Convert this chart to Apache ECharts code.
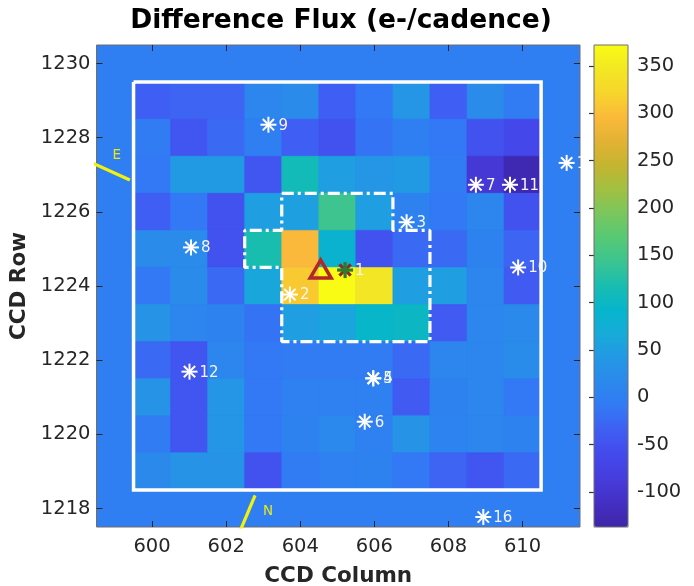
<!DOCTYPE html>
<html>
<head>
<meta charset="utf-8">
<script src="https://cdn.jsdelivr.net/npm/echarts@6/dist/echarts.min.js"></script>
<style>html,body{margin:0;padding:0;background:#fff}#c{width:694px;height:586px}</style>
</head>
<body>
<div id="c"></div>
<script>
// ---------------- data ----------------
const columns = [600, 601, 602, 603, 604, 605, 606, 607, 608, 609, 610];
const rows = [1229, 1228, 1227, 1226, 1225, 1224, 1223, 1222, 1221, 1220, 1219];
// difference flux, one array per CCD row (top to bottom), columns 600..610
const row1229 = [-35, -30, -30, 10, 20, -35, -10, 40, -35, 20, -5];
const row1228 = [-5, -45, -25, 0, -35, -50, -15, 0, -10, -50, -65];
const row1227 = [-10, 45, 45, -45, 110, 50, 40, 45, -5, -95, -128];
const row1226 = [-35, -10, -50, 50, 52, 145, 50, 5, -10, 12, -50];
const row1225 = [20, 20, -50, 118, 295, 85, -50, -25, -25, 5, -30];
const row1224 = [-10, 20, -25, 62, 310, 372, 345, 50, 50, 10, -40];
const row1223 = [35, 10, 5, -15, 50, 60, 95, 100, -40, 12, 18];
const row1222 = [-25, -45, 10, -10, -5, -5, -5, -25, 10, 12, 22];
const row1221 = [35, -45, 38, -10, 2, 2, 2, -40, 5, 12, -10];
const row1220 = [-5, -45, 38, -10, 5, 15, 2, 35, 8, 10, 5];
const row1219 = [18, 35, 35, -50, -5, 2, 5, -10, -30, -45, -25];
const fluxRows = [row1229, row1228, row1227, row1226, row1225, row1224, row1223, row1222, row1221, row1220, row1219];

const fluxMin = -137, fluxMax = 372;
const xTicks = [600, 602, 604, 606, 608, 610];
const yTicks = [1218, 1220, 1222, 1224, 1226, 1228, 1230];
const cbTicks = [-100, -50, 0, 50, 100, 150, 200, 250, 300, 350];
const xRange = [598.5, 611.55];
const yRange = [1217.5, 1230.5];

// mask outline and optimal aperture outline (data coords)
const maskX = [599.5, 610.5, 610.5, 599.5, 599.5];
const maskY = [1229.5, 1229.5, 1218.5, 1218.5, 1229.5];
const apertureX = [603.5, 606.5, 606.5, 607.5, 607.5, 603.5, 603.5, 602.5, 602.5, 603.5, 603.5];
const apertureY = [1226.5, 1226.5, 1225.5, 1225.5, 1222.5, 1222.5, 1224.5, 1224.5, 1225.5, 1225.5, 1226.5];

// catalog stars
const starLabels = ['2', '3', '4', '5', '6', '7', '8', '9', '10', '11', '12', '16', '15'];
const starX = [603.72, 606.87, 605.97, 605.97, 605.74, 608.74, 601.05, 603.14, 609.88, 609.66, 601.01, 608.94, 611.19];
const starY = [1223.77, 1225.72, 1221.51, 1221.51, 1220.34, 1226.73, 1225.04, 1228.35, 1224.50, 1226.73, 1221.69, 1217.77, 1227.32];
const targetLabel = ['1'];
const targetStarX = [605.21];
const targetStarY = [1224.43];
const centroidX = [604.55];
const centroidY = [1224.43];

// compass
const eastX = [598.0, 599.40];
const eastY = [1227.49, 1226.86];
const northX = [602.21, 602.78];
const northY = [1217.0, 1218.35];
const compassLabels = ['E', 'N'];
const compassLabelX = [599.05, 603.13];
const compassLabelY = [1227.53, 1217.92];

// parula-like colormap
const parula = ['#3e26a8', '#442fc4', '#463ddc', '#4449ec', '#3f5ef3', '#3379f5', '#2b88ec', '#2497e5',
  '#17abd9', '#06b5cc', '#18bdb0', '#3bc491', '#56c974', '#79c75e', '#a1c042', '#c4b530',
  '#e2b234', '#fbb93a', '#f7d52c', '#f3e723', '#f9fb14'];

// ---------------- build ----------------
const FONT = '"DejaVu Sans", sans-serif';
const TXT = '#262626';
const cells = [];
rows.forEach((r, i) => columns.forEach((c, j) => cells.push([c, r, fluxRows[i][j]])));
const zip = (xs, ys) => xs.map((x, i) => [x, ys[i]]);
const bgColor = echarts.color.lerp((0 - fluxMin) / (fluxMax - fluxMin), parula);
const plain = v => String(v);

function renderCell(params, api) {
  const x = api.value(0), y = api.value(1);
  const p0 = api.coord([x - 0.5, y + 0.5]);
  const p1 = api.coord([x + 0.5, y - 0.5]);
  const col = api.visual('color');
  return {
    type: 'rect',
    shape: { x: p0[0], y: p0[1], width: p1[0] - p0[0], height: p1[1] - p0[1] },
    style: { fill: col, stroke: col, lineWidth: 0.6 }
  };
}

function starShape(p, r, stroke, lw) {
  const d = r * 0.7071;
  const segs = [[0, -r, 0, r], [-r, 0, r, 0], [-d, -d, d, d], [-d, d, d, -d]];
  return segs.map(s => ({
    type: 'line',
    shape: { x1: p[0] + s[0], y1: p[1] + s[1], x2: p[0] + s[2], y2: p[1] + s[3] },
    style: { stroke: stroke, lineWidth: lw }
  }));
}

function renderStar(params, api) {
  const p = api.coord([api.value(0), api.value(1)]);
  const children = starShape(p, 8, '#ffffff', 2);
  children.push({
    type: 'text',
    style: { text: starLabels[params.dataIndex], x: p[0] + 10, y: p[1] + 1, verticalAlign: 'middle', align: 'left',
      fill: '#f4f4f4', font: '15px ' + FONT }
  });
  return { type: 'group', children: children };
}

function renderTarget(params, api) {
  const p = api.coord([api.value(0), api.value(1)]);
  const r = 8, d = r * 0.7071;
  const children = [
    { type: 'line', shape: { x1: p[0] - d, y1: p[1] - d, x2: p[0] + d, y2: p[1] + d }, style: { stroke: '#8a2a2a', lineWidth: 3.2 } },
    { type: 'line', shape: { x1: p[0] - d, y1: p[1] + d, x2: p[0] + d, y2: p[1] - d }, style: { stroke: '#8a2a2a', lineWidth: 3.2 } },
    { type: 'line', shape: { x1: p[0], y1: p[1] - r, x2: p[0], y2: p[1] + r }, style: { stroke: '#2e7b2e', lineWidth: 3.2 } },
    { type: 'line', shape: { x1: p[0] - r, y1: p[1], x2: p[0] + r, y2: p[1] }, style: { stroke: '#2e7b2e', lineWidth: 3.2 } },
    { type: 'circle', shape: { cx: p[0], cy: p[1], r: 3 }, style: { fill: '#2e7b2e' } },
    { type: 'text', style: { text: targetLabel[params.dataIndex], x: p[0] + 10, y: p[1] + 1, verticalAlign: 'middle', align: 'left',
      fill: '#f4f4f4', font: '15px ' + FONT } }
  ];
  return { type: 'group', children: children };
}

function renderTriangle(params, api) {
  const p = api.coord([api.value(0), api.value(1)]);
  return {
    type: 'polygon',
    shape: { points: [[p[0], p[1] - 10], [p[0] - 10.5, p[1] + 8], [p[0] + 10.5, p[1] + 8]] },
    style: { fill: 'none', stroke: '#b02828', lineWidth: 3.5, lineJoin: 'miter' }
  };
}

function renderCompassText(params, api) {
  const p = api.coord([api.value(0), api.value(1)]);
  return {
    type: 'text',
    style: { text: compassLabels[params.dataIndex], x: p[0], y: p[1], align: 'center', verticalAlign: 'middle',
      fill: '#e8e817', font: '13.5px ' + FONT }
  };
}

const chart = echarts.init(document.getElementById('c'), null, { renderer: 'canvas' });
const axisTickStyle = { lineStyle: { color: TXT, width: 1 } };

chart.setOption({
  animation: false,
  backgroundColor: '#ffffff',
  title: {
    text: 'Difference Flux (e-/cadence)',
    left: 336, top: 3, textAlign: 'center',
    textStyle: { fontFamily: FONT, fontWeight: 'bold', fontSize: 26.5, color: '#000' }
  },
  grid: [
    { left: 96.5, top: 45, width: 483.5, height: 482, show: true, backgroundColor: bgColor,
      borderColor: '#6e6e6e', borderWidth: 1, containLabel: false, outerBoundsMode: 'none' },
    { left: 594, top: 45, width: 34, height: 482, show: true, backgroundColor: 'transparent',
      borderColor: '#6e6e6e', borderWidth: 1, z: 10, containLabel: false, outerBoundsMode: 'none' }
  ],
  xAxis: [
    { gridIndex: 0, type: 'value', min: xRange[0], max: xRange[1], position: 'bottom',
      axisLine: { show: false }, splitLine: { show: false },
      axisTick: { show: true, inside: true, length: 6, customValues: xTicks, ...axisTickStyle },
      axisLabel: { customValues: xTicks, formatter: plain, fontFamily: FONT, fontSize: 19.5, color: TXT, margin: 10 },
      name: 'CCD Column', nameLocation: 'middle', nameGap: 38,
      nameTextStyle: { fontFamily: FONT, fontWeight: 'bold', fontSize: 21.5, color: TXT } },
    { gridIndex: 0, type: 'value', min: xRange[0], max: xRange[1], position: 'top',
      axisLine: { show: false }, splitLine: { show: false }, axisLabel: { show: false },
      axisTick: { show: true, inside: true, length: 6, customValues: xTicks, ...axisTickStyle } },
    { gridIndex: 1, type: 'value', min: 0, max: 1, show: false }
  ],
  yAxis: [
    { gridIndex: 0, type: 'value', min: yRange[0], max: yRange[1], position: 'left',
      axisLine: { show: false }, splitLine: { show: false },
      axisTick: { show: true, inside: true, length: 6, customValues: yTicks, ...axisTickStyle },
      axisLabel: { customValues: yTicks, formatter: plain, fontFamily: FONT, fontSize: 19.5, color: TXT, margin: 6 },
      name: 'CCD Row', nameLocation: 'middle', nameGap: 53,
      nameTextStyle: { fontFamily: FONT, fontWeight: 'bold', fontSize: 21.5, color: TXT } },
    { gridIndex: 0, type: 'value', min: yRange[0], max: yRange[1], position: 'right',
      axisLine: { show: false }, splitLine: { show: false }, axisLabel: { show: false },
      axisTick: { show: true, inside: true, length: 6, customValues: yTicks, ...axisTickStyle } },
    { gridIndex: 1, type: 'value', min: fluxMin, max: fluxMax, position: 'right',
      axisLine: { show: false }, splitLine: { show: false },
      axisTick: { show: true, inside: true, length: 5, customValues: cbTicks, lineStyle: { color: '#333', width: 1.2 } },
      axisLabel: { customValues: cbTicks, formatter: plain, fontFamily: FONT, fontSize: 19.5, color: TXT, margin: 9 } }
  ],
  visualMap: {
    type: 'continuous', min: fluxMin, max: fluxMax, seriesIndex: 0, dimension: 2,
    inRange: { color: parula }, left: 594, top: 45, itemWidth: 34, itemHeight: 482,
    calculable: false, hoverLink: false, padding: 0, showLabel: false, z: 5
  },
  series: [
    { type: 'custom', name: 'flux', xAxisIndex: 0, yAxisIndex: 0, data: cells, encode: { x: 0, y: 1 },
      renderItem: renderCell, clip: true, z: 2 },
    { type: 'line', name: 'mask', xAxisIndex: 0, yAxisIndex: 0, data: zip(maskX, maskY), symbol: 'none',
      lineStyle: { color: '#ffffff', width: 3.5, join: 'miter' }, z: 3, silent: true },
    { type: 'line', name: 'aperture', xAxisIndex: 0, yAxisIndex: 0, data: zip(apertureX, apertureY), symbol: 'none',
      lineStyle: { color: '#ffffff', width: 3.2, type: [12, 4, 3, 4] }, z: 4, silent: true },
    { type: 'line', name: 'east', xAxisIndex: 0, yAxisIndex: 0, data: zip(eastX, eastY), symbol: 'none',
      lineStyle: { color: '#f2f20a', width: 3.2 }, clip: true, z: 4, silent: true },
    { type: 'line', name: 'north', xAxisIndex: 0, yAxisIndex: 0, data: zip(northX, northY), symbol: 'none',
      lineStyle: { color: '#f2f20a', width: 3.2 }, clip: true, z: 4, silent: true },
    { type: 'custom', name: 'compassText', xAxisIndex: 0, yAxisIndex: 0, data: zip(compassLabelX, compassLabelY),
      encode: { x: 0, y: 1 }, renderItem: renderCompassText, clip: true, z: 5 },
    { type: 'custom', name: 'stars', xAxisIndex: 0, yAxisIndex: 0, data: zip(starX, starY),
      encode: { x: 0, y: 1 }, renderItem: renderStar, clip: true, z: 6 },
    { type: 'custom', name: 'centroid', xAxisIndex: 0, yAxisIndex: 0, data: zip(centroidX, centroidY),
      encode: { x: 0, y: 1 }, renderItem: renderTriangle, clip: true, z: 7 },
    { type: 'custom', name: 'target', xAxisIndex: 0, yAxisIndex: 0, data: zip(targetStarX, targetStarY),
      encode: { x: 0, y: 1 }, renderItem: renderTarget, clip: true, z: 8 }
  ]
});
</script>
</body>
</html>
